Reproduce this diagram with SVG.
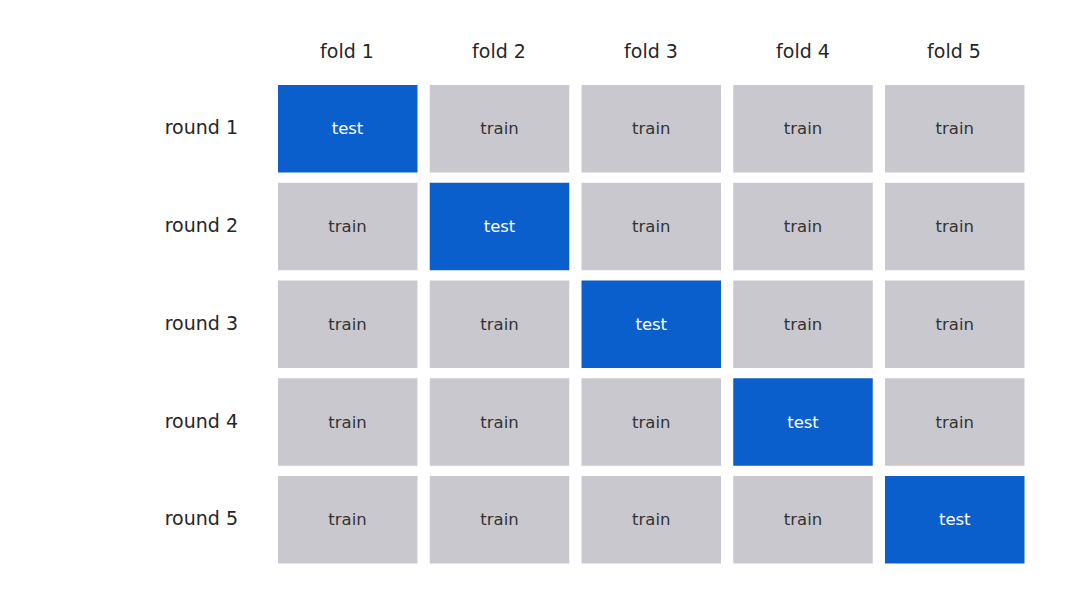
<svg xmlns="http://www.w3.org/2000/svg" width="1068" height="603" viewBox="0 0 1068 603">
<style>
.hdr{font-family:"DejaVu Sans",sans-serif;font-size:19px;fill:#262626;text-anchor:middle}
.row{font-family:"DejaVu Sans",sans-serif;font-size:19px;fill:#262626;text-anchor:end}
.tr rect{fill:#c9c8ce}
.te rect{fill:#0a5fcc}
.tr text{font-family:"DejaVu Sans",sans-serif;font-size:16.5px;fill:#333;text-anchor:middle}
.te text{font-family:"DejaVu Sans",sans-serif;font-size:16.5px;fill:#fff;text-anchor:middle}
</style>
<rect width="1068" height="603" fill="#fff"/>
<g id="headers">
<text class="hdr" x="347" y="58">fold 1</text>
<text class="hdr" x="499" y="58">fold 2</text>
<text class="hdr" x="651" y="58">fold 3</text>
<text class="hdr" x="803" y="58">fold 4</text>
<text class="hdr" x="954" y="58">fold 5</text>
<text class="row" x="238" y="134">round 1</text>
<text class="row" x="238" y="232">round 2</text>
<text class="row" x="238" y="329.5">round 3</text>
<text class="row" x="238" y="427.5">round 4</text>
<text class="row" x="238" y="525">round 5</text>
</g>
<g id="r1">
<g id="r1c1" class="te"><rect x="278" y="85" width="139.5" height="87.5"/><text x="347.5" y="134">test</text></g>
<g id="r1c2" class="tr"><rect x="429.75" y="85" width="139.5" height="87.5"/><text x="499.5" y="134">train</text></g>
<g id="r1c3" class="tr"><rect x="581.5" y="85" width="139.5" height="87.5"/><text x="651.25" y="134">train</text></g>
<g id="r1c4" class="tr"><rect x="733.25" y="85" width="139.5" height="87.5"/><text x="803" y="134">train</text></g>
<g id="r1c5" class="tr"><rect x="885" y="85" width="139.5" height="87.5"/><text x="954.75" y="134">train</text></g>
</g>
<g id="r2">
<g id="r2c1" class="tr"><rect x="278" y="182.75" width="139.5" height="87.5"/><text x="347.5" y="232">train</text></g>
<g id="r2c2" class="te"><rect x="429.75" y="182.75" width="139.5" height="87.5"/><text x="499.5" y="232">test</text></g>
<g id="r2c3" class="tr"><rect x="581.5" y="182.75" width="139.5" height="87.5"/><text x="651.25" y="232">train</text></g>
<g id="r2c4" class="tr"><rect x="733.25" y="182.75" width="139.5" height="87.5"/><text x="803" y="232">train</text></g>
<g id="r2c5" class="tr"><rect x="885" y="182.75" width="139.5" height="87.5"/><text x="954.75" y="232">train</text></g>
</g>
<g id="r3">
<g id="r3c1" class="tr"><rect x="278" y="280.5" width="139.5" height="87.5"/><text x="347.5" y="329.5">train</text></g>
<g id="r3c2" class="tr"><rect x="429.75" y="280.5" width="139.5" height="87.5"/><text x="499.5" y="329.5">train</text></g>
<g id="r3c3" class="te"><rect x="581.5" y="280.5" width="139.5" height="87.5"/><text x="651.25" y="329.5">test</text></g>
<g id="r3c4" class="tr"><rect x="733.25" y="280.5" width="139.5" height="87.5"/><text x="803" y="329.5">train</text></g>
<g id="r3c5" class="tr"><rect x="885" y="280.5" width="139.5" height="87.5"/><text x="954.75" y="329.5">train</text></g>
</g>
<g id="r4">
<g id="r4c1" class="tr"><rect x="278" y="378.25" width="139.5" height="87.5"/><text x="347.5" y="427.5">train</text></g>
<g id="r4c2" class="tr"><rect x="429.75" y="378.25" width="139.5" height="87.5"/><text x="499.5" y="427.5">train</text></g>
<g id="r4c3" class="tr"><rect x="581.5" y="378.25" width="139.5" height="87.5"/><text x="651.25" y="427.5">train</text></g>
<g id="r4c4" class="te"><rect x="733.25" y="378.25" width="139.5" height="87.5"/><text x="803" y="427.5">test</text></g>
<g id="r4c5" class="tr"><rect x="885" y="378.25" width="139.5" height="87.5"/><text x="954.75" y="427.5">train</text></g>
</g>
<g id="r5">
<g id="r5c1" class="tr"><rect x="278" y="476" width="139.5" height="87.5"/><text x="347.5" y="525">train</text></g>
<g id="r5c2" class="tr"><rect x="429.75" y="476" width="139.5" height="87.5"/><text x="499.5" y="525">train</text></g>
<g id="r5c3" class="tr"><rect x="581.5" y="476" width="139.5" height="87.5"/><text x="651.25" y="525">train</text></g>
<g id="r5c4" class="tr"><rect x="733.25" y="476" width="139.5" height="87.5"/><text x="803" y="525">train</text></g>
<g id="r5c5" class="te"><rect x="885" y="476" width="139.5" height="87.5"/><text x="954.75" y="525">test</text></g>
</g>
<g id="connectors"/>
</svg>
